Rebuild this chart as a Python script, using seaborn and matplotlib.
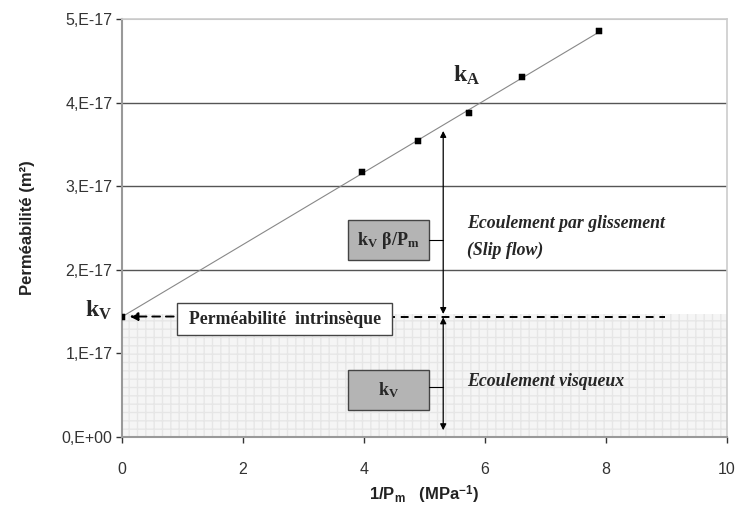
import numpy as np
import pandas as pd
import matplotlib
matplotlib.use("Agg")
import matplotlib.pyplot as plt
import seaborn as sns
from matplotlib.patches import Rectangle

# ---- data ----
inv_pm = [0.0, 3.97, 4.90, 5.73, 6.61, 7.89]            # 1/Pm (MPa^-1)
perm = [1.44e-17, 3.17e-17, 3.54e-17, 3.88e-17, 4.30e-17, 4.86e-17]  # m^2
kv_value = 1.44e-17
x_ticks = [0, 2, 4, 6, 8, 10]
y_ticks = [0, 1e-17, 2e-17, 3e-17, 4e-17, 5e-17]
y_tick_labels = ["0,E+00", "1,E-17", "2,E-17", "3,E-17", "4,E-17", "5,E-17"]

df = pd.DataFrame({"x": inv_pm, "y": perm})

sns.set_style("white")
plt.rcParams["font.family"] = ["Liberation Sans", "DejaVu Sans"]
plt.rcParams["mathtext.fontset"] = "custom"
plt.rcParams["mathtext.rm"] = "Liberation Serif:bold"
plt.rcParams["mathtext.bf"] = "Liberation Serif:bold"
plt.rcParams["mathtext.it"] = "Liberation Serif:bold"
plt.rcParams["mathtext.sf"] = "Liberation Sans:bold"

fig = plt.figure(figsize=(7.35, 5.11), dpi=100)
ax = fig.add_axes([0.166, 0.145, 0.823, 0.818])

# shaded viscous region
ax.fill_between([0, 10], 0, 1.465e-17, facecolor="#f5f5f5", edgecolor="#e6e6e6",
                hatch="++", linewidth=0, zorder=0)

# gridlines
for yv in y_ticks[2:5]:
    ax.axhline(yv, color="#555555", lw=1.0, zorder=1)
ax.axhline(y_ticks[-1], color="#bbbbbb", lw=1.5, zorder=1)

# trend line (least squares through points)
coef = np.polyfit(inv_pm, perm, 1)
xl = np.array([inv_pm[0], inv_pm[-1]])
sns.lineplot(x=xl, y=np.polyval(coef, xl), ax=ax, color="#888888", lw=0.8, zorder=2)
sns.scatterplot(data=df, x="x", y="y", ax=ax, marker="s", s=20, color="black",
                edgecolor="black", zorder=3)

# dashed intrinsic permeability line
ax.plot([1.0, 8.98], [kv_value, kv_value], color="black", lw=1.4, ls=(0, (4, 3)), zorder=2)
ax.annotate("", xy=(0.08, kv_value), xytext=(0.9, kv_value),
            arrowprops=dict(arrowstyle="-|>", color="black", lw=1.4, ls=(0, (4, 3)),
                            mutation_scale=12), zorder=4)

# vertical double arrows
xa = 5.31
ax.annotate("", xy=(xa, 3.66e-17), xytext=(xa, 1.47e-17),
            arrowprops=dict(arrowstyle="<|-|>", color="black", lw=0.9, mutation_scale=9,
                            shrinkA=0, shrinkB=0), zorder=4)
ax.annotate("", xy=(xa, 0.08e-17), xytext=(xa, 1.43e-17),
            arrowprops=dict(arrowstyle="<|-|>", color="black", lw=0.9, mutation_scale=9,
                            shrinkA=0, shrinkB=0), zorder=4)

# boxes
ax.add_patch(Rectangle((3.73, 2.12e-17), 1.35, 0.47e-17, facecolor="#b4b4b4",
                       edgecolor="#444444", lw=1, zorder=4))
ax.plot([5.08, xa], [2.36e-17, 2.36e-17], color="black", lw=0.8, zorder=4)
ax.text(4.405, 2.355e-17, r"$\mathrm{k_V\ \beta/P_m}$", ha="center", va="center",
        fontsize=13, zorder=5)

ax.add_patch(Rectangle((3.73, 0.32e-17), 1.35, 0.48e-17, facecolor="#b4b4b4",
                       edgecolor="#444444", lw=1, zorder=4))
ax.plot([5.08, xa], [0.6e-17, 0.6e-17], color="black", lw=0.8, zorder=4)
ax.text(4.405, 0.56e-17, r"$\mathrm{k_V}$", ha="center", va="center",
        fontsize=13, zorder=5)

ax.add_patch(Rectangle((0.91, 1.22e-17), 3.56, 0.38e-17, facecolor="white",
                       edgecolor="#444444", lw=1, zorder=4))
ax.text(2.69, 1.40e-17, "Perméabilité  intrinsèque", ha="center", va="center",
        fontsize=12.8, family="Liberation Serif", weight="bold", zorder=5)

# region texts
ax.text(5.71, 2.55e-17, "Ecoulement par glissement", ha="left", va="center",
        fontsize=12.8, family="Liberation Serif", style="italic", weight="bold", zorder=5)
ax.text(5.71, 2.23e-17, "(Slip flow)", ha="left", va="center",
        fontsize=12.8, family="Liberation Serif", style="italic", weight="bold", zorder=5)
ax.text(5.71, 0.66e-17, "Ecoulement visqueux", ha="left", va="center",
        fontsize=12.8, family="Liberation Serif", style="italic", weight="bold", zorder=5)

# k labels
ax.text(5.70, 4.33e-17, r"$\mathrm{k_A}$", ha="center", va="center", fontsize=17, zorder=5)
ax.text(-0.16, kv_value + 0.07e-17, r"$\mathrm{k_V}$", ha="right", va="center",
        fontsize=17, zorder=5, clip_on=False)

# axes
ax.set_xlim(0, 10)
ax.set_ylim(0, 5e-17)
ax.set_xticks(x_ticks)
ax.set_xticklabels([str(v) for v in x_ticks])
ax.set_yticks(y_ticks)
ax.set_yticklabels(y_tick_labels)
ax.tick_params(axis="both", labelsize=11.5, colors="#333333", length=4, width=1,
               direction="out", bottom=True, left=True)
ax.tick_params(axis="x", pad=14)
ax.tick_params(axis="y", pad=3)
for s in ["left", "bottom"]:
    ax.spines[s].set_color("#999999")
    ax.spines[s].set_linewidth(1.5)
for s in ["right", "top"]:
    ax.spines[s].set_color("#cccccc")
    ax.spines[s].set_linewidth(1.2)
ax.set_xlabel(r"1/P$_{\mathsf{m}}$   (MPa$^{\mathsf{-1}}$)", fontsize=12, weight="bold",
              labelpad=5, color="#222222")
ax.set_ylabel("Perméabilité (m²)", fontsize=12, weight="bold", labelpad=19, color="#222222")

fig.savefig("out.png", dpi=100)
